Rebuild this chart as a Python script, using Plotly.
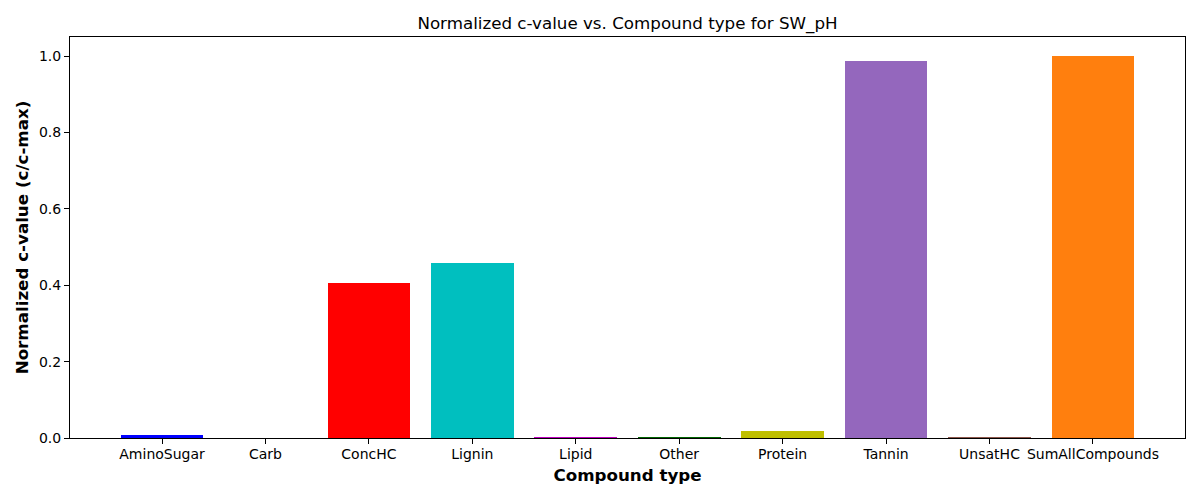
import plotly.graph_objects as go

categories = ["AminoSugar", "Carb", "ConcHC", "Lignin", "Lipid", "Other",
              "Protein", "Tannin", "UnsatHC", "SumAllCompounds"]
values = [0.008, 0.0, 0.407, 0.457, 0.002, 0.002, 0.018, 0.987, 0.002, 1.0]
colors = ["#0000ff", "#008000", "#ff0000", "#00bfbf", "#bf00bf", "#006400",
          "#bfbf00", "#9467bd", "#8c564b", "#ff7f0e"]
y_ticks = [0.0, 0.2, 0.4, 0.6, 0.8, 1.0]

xpos = list(range(len(categories)))

fig = go.Figure(go.Bar(x=xpos, y=values, marker=dict(color=colors, line=dict(width=0)),
                       width=0.8))

font = "DejaVu Sans"
fig.update_layout(
    width=1200, height=500,
    margin=dict(l=70, r=15, t=37, b=62),
    paper_bgcolor="white", plot_bgcolor="white",
    font=dict(family=font, size=14, color="black"),
    showlegend=False,
    title=dict(text="Normalized c-value vs. Compound type for SW_pH",
               x=0.5, xref="paper", xanchor="center", y=0.954, yanchor="middle",
               font=dict(size=16.7, family=font)),
    bargap=0,
)
fig.update_xaxes(
    range=[-0.89, 9.89], tickmode="array", tickvals=xpos, ticktext=categories,
    ticks="outside", ticklen=5, tickwidth=1, tickcolor="black",
    ticklabelstandoff=-2,
    showline=True, linecolor="black", linewidth=1, mirror=True,
    showgrid=False, zeroline=False,
    title=dict(text="<b>Compound type</b>", font=dict(size=16.7, family=font), standoff=8),
)
fig.update_yaxes(
    range=[0, 1.05], tickmode="array", tickvals=y_ticks,
    ticktext=[f"{v:.1f}" for v in y_ticks],
    ticks="outside", ticklen=5, tickwidth=1, tickcolor="black",
    showline=True, linecolor="black", linewidth=1, mirror=True,
    showgrid=False, zeroline=False,
    title=dict(text="<b>Normalized c-value (c/c-max)</b>", font=dict(size=16.7, family=font), standoff=6),
)

fig.write_html("out.html", config={"displayModeBar": False},
               post_script="document.body.style.margin='0';")
